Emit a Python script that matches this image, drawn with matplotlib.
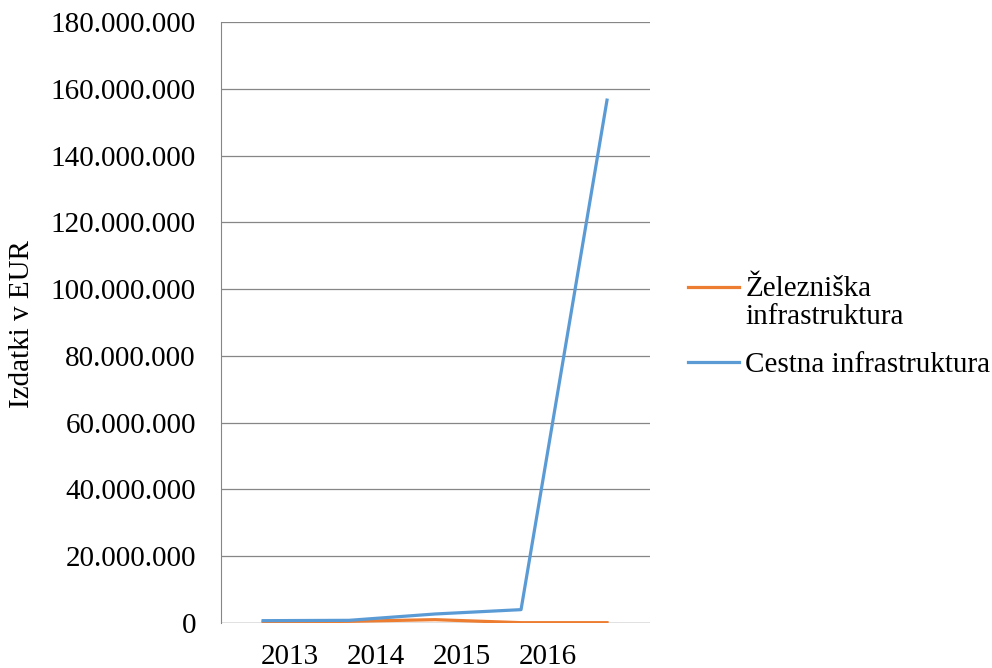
import numpy as np
import matplotlib.pyplot as plt
from matplotlib.ticker import FuncFormatter
from matplotlib.legend_handler import HandlerLine2D

# ---- Data ----
years = ["2013", "2014", "2015", "2016"]
zeleznica = [0.3e6, 0.5e6, 1.0e6, 0.1e6, 0.1e6]
cesta = [0.7e6, 0.8e6, 2.7e6, 4.0e6, 156.6e6]

plt.rcParams['font.family'] = ['Liberation Serif', 'DejaVu Serif']
FS = 21


class TopLineHandler(HandlerLine2D):
    """Put the legend line next to the first text line (Excel style)."""
    def __init__(self, shift=0, **kw):
        super().__init__(**kw)
        self.shift = shift

    def create_artists(self, legend, orig_handle, xdescent, ydescent,
                       width, height, fontsize, trans):
        arts = super().create_artists(legend, orig_handle, xdescent, ydescent,
                                      width, height, fontsize, trans)
        for a in arts:
            a.set_ydata(np.asarray(a.get_ydata()) + self.shift)
        return arts


fig = plt.figure(figsize=(9.92, 6.68), dpi=100)
ax = fig.add_axes([221 / 992, 45 / 668, 429 / 992, 601 / 668])

x = np.arange(len(cesta))
l1, = ax.plot(x, zeleznica, color="#ED7D31", lw=2.3, label="Železniška\ninfrastruktura")
l2, = ax.plot(x, cesta, color="#5B9BD5", lw=2.3, label="Cestna infrastruktura")

ax.set_ylim(0, 180e6)
ax.set_yticks(np.arange(0, 180e6 + 1, 20e6))
ax.yaxis.set_major_formatter(FuncFormatter(lambda v, p: f"{int(v):,}".replace(",", ".")))
ax.set_xlim(-0.49, 4.5)
# category labels sit slightly right of the data points, as in the original
ax.set_xticks(np.arange(len(years)) + 0.31)
ax.set_xticklabels(years)

ax.grid(axis="y", color="#868686", lw=0.9)
ax.set_axisbelow(True)
for s in ["top", "right", "bottom"]:
    ax.spines[s].set_visible(False)
ax.spines["left"].set_color("#868686")
ax.axhline(0, color="#868686", lw=0.9, zorder=1)
ax.tick_params(length=0, labelsize=FS)
ax.tick_params(axis="y", pad=18)
ax.tick_params(axis="x", pad=15)

ax.set_ylabel("Izdatki v EUR", fontsize=FS)
ax.yaxis.set_label_coords(-0.434, 0.497)

leg = fig.legend(handles=[l1, l2], loc="center left",
                 bbox_to_anchor=(688 / 992, (668 - 327) / 668),
                 frameon=False, fontsize=FS, borderpad=0, borderaxespad=0,
                 handlelength=1.75, handletextpad=0.22, labelspacing=0.75,
                 handler_map={l1: TopLineHandler(shift=11)})
for t in leg.get_texts():
    t.set_linespacing(1.1)

plt.savefig("out.png", dpi=100)
plt.close()
